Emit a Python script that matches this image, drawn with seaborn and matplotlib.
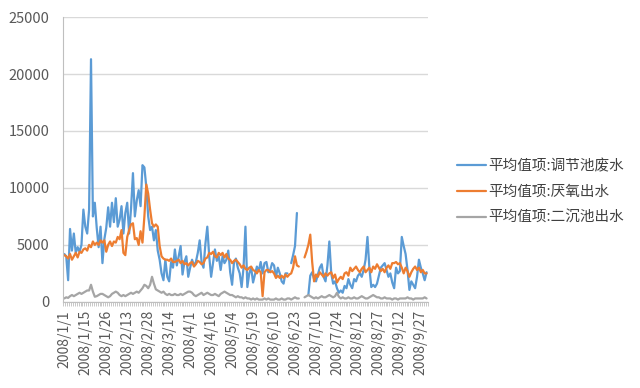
import numpy as np
import pandas as pd
import matplotlib
matplotlib.use("Agg")
import matplotlib.pyplot as plt
from matplotlib.lines import Line2D
import seaborn as sns

# tick labels shown every 11 categories
tick_labels = ["2008/1/1", "2008/1/15", "2008/1/26", "2008/2/13", "2008/2/28",
               "2008/3/14", "2008/4/1", "2008/4/16", "2008/5/4", "2008/5/19",
               "2008/6/10", "2008/6/23", "2008/7/10", "2008/7/24", "2008/8/12",
               "2008/8/27", "2008/9/12", "2008/9/27"]

names = ["平均值项:调节池废水", "平均值项:厌氧出水", "平均值项:二沉池出水"]
colors = ["#5B9BD5", "#ED7D31", "#A5A5A5"]

nan = np.nan
# values (one per category, nan = missing)
influent = [4200, 4000, 1900, 6400, 4500, 6000, 4300, 4800, 4400, 5000,
            8100, 6600, 6000, 8100, 21300, 7500, 8700, 6500, 4800, 6600,
            3400, 5500, 6500, 8300, 6600, 8700, 7000, 9100, 6600, 7200,
            8400, 6000, 7800, 8700, 6000, 8200, 11300, 7500, 8900, 9800,
            8400, 12000, 11800, 10100, 7500, 6300, 6600, 5400, 6300, 4500,
            3700, 2500, 1900, 3700, 2200, 1800, 3500, 3000, 4600, 3200,
            4000, 4900, 2400, 3500, 4000, 2200, 3000, 3700, 3200, 3500,
            4300, 5400, 3500, 3000, 5100, 6600, 4000, 2200, 3400, 4600,
            3600, 4000, 2800, 4000, 3400, 3700, 4500, 2600, 1500, 3500,
            3800, 3000, 2500, 1300, 3000, 6600, 1300, 2500, 3000, 1700,
            2400, 3100, 2700, 3500, 2500, 3400, 3500, 2600, 2800, 3400,
            3200, 2200, 3000, 2500, 1800, 1600, 2500, 2500, nan, 3400,
            4100, 4900, 7800, nan, nan, nan, nan, nan, 600, 2300,
            2600, 2000, 1800, 2400, 3000, 3300, 2200, 1800, 3200, 5300,
            2500, 1600, 1800, 1200, 800, 1000, 800, 1400, 1200, 2000,
            1500, 1200, 2000, 1800, 2300, 2500, 2200, 2800, 3700, 5700,
            3000, 1300, 1500, 1300, 1600, 2300, 3000, 3200, 3400, 2800,
            2200, 2500, 1700, 1200, 3000, 2500, 2700, 5700, 4900, 4200,
            2800, 1050, 1800, 1500, 1200, 2200, 3700, 3000, 2500, 1900,
            2600]

anaerobic = [4100, 4000, 3800, 4200, 3700, 4000, 4300, 3900, 4400, 4300,
             4600, 4700, 4500, 5000, 4800, 5300, 5000, 5200, 5000, 5400,
             5200, 5400, 4400, 5000, 5300, 4900, 5300, 5200, 5700, 5500,
             6300, 4300, 4100, 5700, 6300, 6800, 6900, 5500, 5600, 5000,
             6200, 5200, 7500, 10300, 9500, 8100, 6900, 6600, 6800, 6600,
             4900, 4000, 3800, 3700, 3700, 3600, 3800, 3500, 3500, 3600,
             3700, 3400, 3600, 3300, 3400, 3200, 3400, 3500, 3100, 3300,
             3600, 3500, 3300, 3400, 3800, 3900, 4300, 4200, 4400, 4000,
             3900, 4300, 4100, 4300, 3900, 4200, 3800, 3700, 3400, 3600,
             3700, 3500, 3300, 3000, 3200, 2900, 2800, 3000, 3100, 2800,
             2700, 2500, 2800, 2600, 500, 2600, 2800, 2800, 2600, 2700,
             2500, 2100, 2300, 2100, 2300, 2100, 2400, 2200, 2400, 2500,
             3000, 4000, 3200, 3100, nan, nan, 3900, 4400, 5000, 5900,
             3500, 1800, 2400, 2200, 2600, 2400, 2200, 2500, 2300, 2500,
             2600, 2100, 2400, 1700, 2000, 2200, 2000, 2500, 2600, 2300,
             3000, 2700, 2900, 3100, 2800, 2600, 2900, 3100, 2600, 2800,
             3000, 2600, 3100, 2900, 3300, 3000, 2700, 2900, 2600, 3000,
             3200, 2900, 3400, 3400, 3500, 3300, 3400, 3000, 2500, 3000,
             2700, 2200, 2600, 2900, 3100, 2800, 3000, 2600, 2800, 2500,
             2500]

secondary = [300, 400, 350, 500, 600, 500, 600, 700, 800, 700,
             800, 900, 1000, 1000, 1500, 900, 450, 500, 600, 700,
             700, 600, 500, 400, 500, 700, 800, 900, 800, 600,
             500, 600, 500, 600, 700, 800, 700, 800, 900, 800,
             1000, 1200, 1500, 1400, 1200, 1500, 2200, 1600, 1100, 1000,
             900, 800, 900, 700, 600, 700, 600, 600, 700, 600,
             600, 700, 600, 700, 800, 900, 900, 800, 600, 500,
             600, 700, 800, 600, 700, 800, 700, 600, 600, 700,
             600, 500, 700, 800, 900, 800, 700, 600, 600, 500,
             400, 500, 400, 400, 300, 400, 300, 300, 200, 300,
             200, 300, 200, 200, 200, 300, 200, 300, 200, 200,
             200, 300, 200, 200, 300, 200, 200, 300, 300, 200,
             300, 400, 300, 300, nan, nan, 400, 500, 600, 500,
             400, 300, 400, 300, 400, 500, 400, 400, 500, 600,
             500, 400, 500, 800, 450, 300, 400, 300, 300, 400,
             300, 300, 400, 300, 300, 400, 500, 400, 300, 300,
             400, 500, 600, 500, 400, 400, 300, 300, 400, 300,
             300, 300, 200, 300, 300, 200, 300, 300, 300, 300,
             400, 300, 300, 200, 300, 300, 300, 300, 300, 400,
             300]

# long table; a new segment starts after every missing value so gaps stay open
frames = []
for name, vals in zip(names, [influent, anaerobic, secondary]):
    s = pd.Series(vals, dtype=float)
    seg = s.isna().cumsum()
    d = pd.DataFrame({"idx": np.arange(len(s)), "value": s, "seg": seg, "series": name})
    frames.append(d.dropna())
df = pd.concat(frames, ignore_index=True)

sns.set_style("white")
plt.rcParams["font.family"] = ["Noto Sans CJK SC", "DejaVu Sans"]

fig = plt.figure(figsize=(6.4, 3.88), dpi=100)
ax = fig.add_axes([0.099, 0.222, 0.569, 0.734])

sns.lineplot(data=df, x="idx", y="value", hue="series", units="seg",
             estimator=None, sort=False, palette=dict(zip(names, colors)),
             linewidth=1.6, legend=False, ax=ax)

n = len(influent)
ax.set_xlim(-0.5, n - 0.5)
ax.set_ylim(0, 25000)
ax.set_yticks(range(0, 25001, 5000))
ax.yaxis.grid(True, color="#D9D9D9", linewidth=1)
ax.set_axisbelow(True)

ax.set_xticks(np.arange(0, n, 11)[:len(tick_labels)])
ax.set_xticklabels(tick_labels, rotation=90, fontsize=10, color="#595959")
ax.set_xticks(np.arange(-0.5, n, 1), minor=True)
ax.tick_params(axis="x", which="major", length=0, pad=6)
ax.tick_params(axis="x", which="minor", length=3, color="#BFBFBF", width=0.6, bottom=True)
ax.tick_params(axis="y", length=0, pad=10, labelsize=10.5, labelcolor="#595959")
ax.set_xlabel("")
ax.set_ylabel("")

for side in ["top", "right"]:
    ax.spines[side].set_visible(False)
ax.spines["left"].set_color("#BFBFBF")
ax.spines["bottom"].set_color("#BFBFBF")

handles = [Line2D([], [], color=c, linewidth=1.6) for c in colors]
fig.legend(handles, names, loc="center left", bbox_to_anchor=(0.693, 0.505),
           frameon=False, fontsize=10.5, handlelength=2.0, handletextpad=0.15,
           labelspacing=0.8, labelcolor="#404040")

fig.savefig("out.png", dpi=100)
